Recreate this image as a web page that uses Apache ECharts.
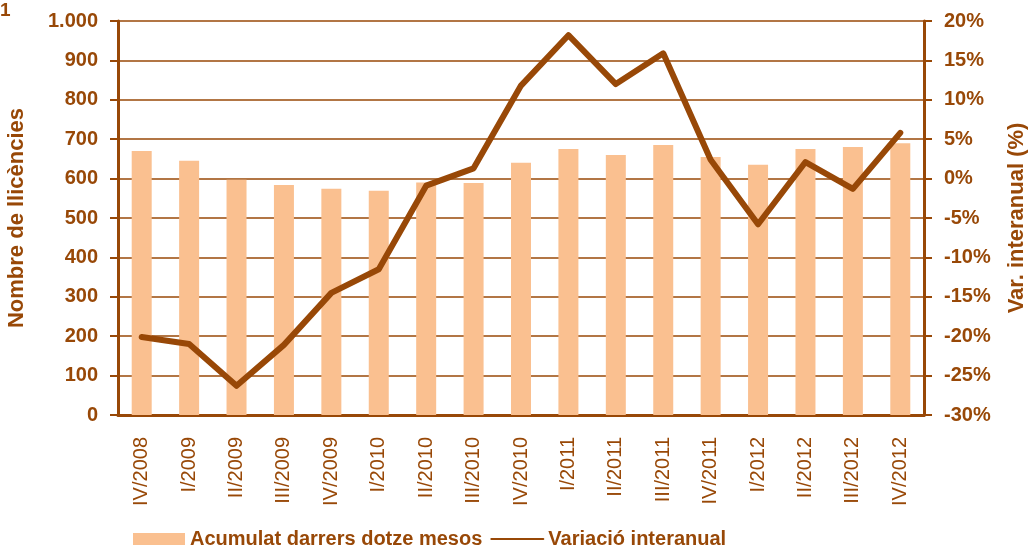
<!DOCTYPE html>
<html><head><meta charset="utf-8">
<script src="https://cdn.jsdelivr.net/npm/echarts@6/dist/echarts.min.js"></script>
<style>html,body{margin:0;padding:0;background:#fff}#c{width:1030px;height:554px}</style>
</head><body><div id="c"></div>
<script>
const categories = ['IV/2008','I/2009','II/2009','III/2009','IV/2009','I/2010','II/2010','III/2010','IV/2010','I/2011','II/2011','III/2011','IV/2011','I/2012','II/2012','III/2012','IV/2012'];
const acumulat = [670, 645, 597, 584, 574, 569, 590, 589, 640, 675, 660, 685, 655, 635, 675, 680, 690];
const variacio = [-20.1, -21.0, -26.3, -21.1, -14.5, -11.5, -0.9, 1.3, 11.8, 18.2, 12.0, 15.9, 2.4, -5.8, 2.1, -1.3, 5.8];
const leftTicks = {min: 0, max: 1000, interval: 100};
const rightTicks = {min: -30, max: 20, interval: 5};

const brown = '#984807';
const peach = '#FAC090';
const font = 'Liberation Sans, Arial, sans-serif';
const chart = echarts.init(document.getElementById('c'), null, {renderer: 'canvas'});
chart.setOption({
  animation: false,
  textStyle: {fontFamily: font, color: brown},
  graphic: [{type: 'text', left: 0, top: 1, style: {text: '1', font: 'bold 19px ' + font, fill: brown}}],
  grid: {left: 118, right: 106, top: 21, bottom: 139, outerBoundsMode: 'none', containLabel: false},
  legend: {
    bottom: 0, left: 128, itemGap: 8, itemWidth: 52, itemHeight: 12,
    textStyle: {fontFamily: font, fontWeight: 'bold', fontSize: 20, color: brown},
    data: [
      {name: 'Acumulat darrers dotze mesos', icon: 'rect'},
      {name: 'Variació interanual', lineStyle: {width: 2}, itemStyle: {opacity: 0}}
    ]
  },
  xAxis: {
    type: 'category', data: categories,
    axisLine: {lineStyle: {color: brown, width: 3}},
    axisTick: {lineStyle: {color: brown, width: 2}, length: 7},
    axisLabel: {rotate: 90, margin: 22, fontSize: 20, color: brown, fontFamily: font}
  },
  yAxis: [{
    type: 'value', min: leftTicks.min, max: leftTicks.max, interval: leftTicks.interval,
    name: 'Nombre de llicències', nameLocation: 'middle', nameGap: 90, nameRotate: 90,
    nameTextStyle: {fontSize: 22, fontWeight: 'bold', color: brown, fontFamily: font},
    axisLine: {show: true, lineStyle: {color: brown, width: 3}},
    axisTick: {show: true, length: 8, lineStyle: {color: brown, width: 2}},
    splitLine: {lineStyle: {color: brown, width: 1.5}},
    axisLabel: {margin: 20, fontSize: 20, fontWeight: 'bold', color: brown, fontFamily: font,
      formatter: v => v >= 1000 ? (Math.floor(v/1000) + '.' + String(v%1000).padStart(3,'0')) : String(v)}
  }, {
    type: 'value', min: rightTicks.min, max: rightTicks.max, interval: rightTicks.interval,
    name: 'Var. interanual (%)', nameLocation: 'middle', nameGap: 82, nameRotate: 90,
    nameTextStyle: {fontSize: 22, fontWeight: 'bold', color: brown, fontFamily: font},
    axisLine: {show: true, lineStyle: {color: brown, width: 3}},
    axisTick: {show: true, length: 8, lineStyle: {color: brown, width: 2}},
    splitLine: {show: false},
    axisLabel: {margin: 20, fontSize: 20, fontWeight: 'bold', color: brown, fontFamily: font, formatter: '{value}%'}
  }],
  series: [{
    name: 'Acumulat darrers dotze mesos', type: 'bar', data: acumulat, barWidth: 20,
    itemStyle: {color: peach}, z: 1
  }, {
    name: 'Variació interanual', type: 'line', yAxisIndex: 1, data: variacio,
    showSymbol: false, symbol: 'none',
    lineStyle: {color: brown, width: 6, cap: 'round', join: 'round'}, itemStyle: {color: brown}, z: 3
  }]
});
</script></body></html>
